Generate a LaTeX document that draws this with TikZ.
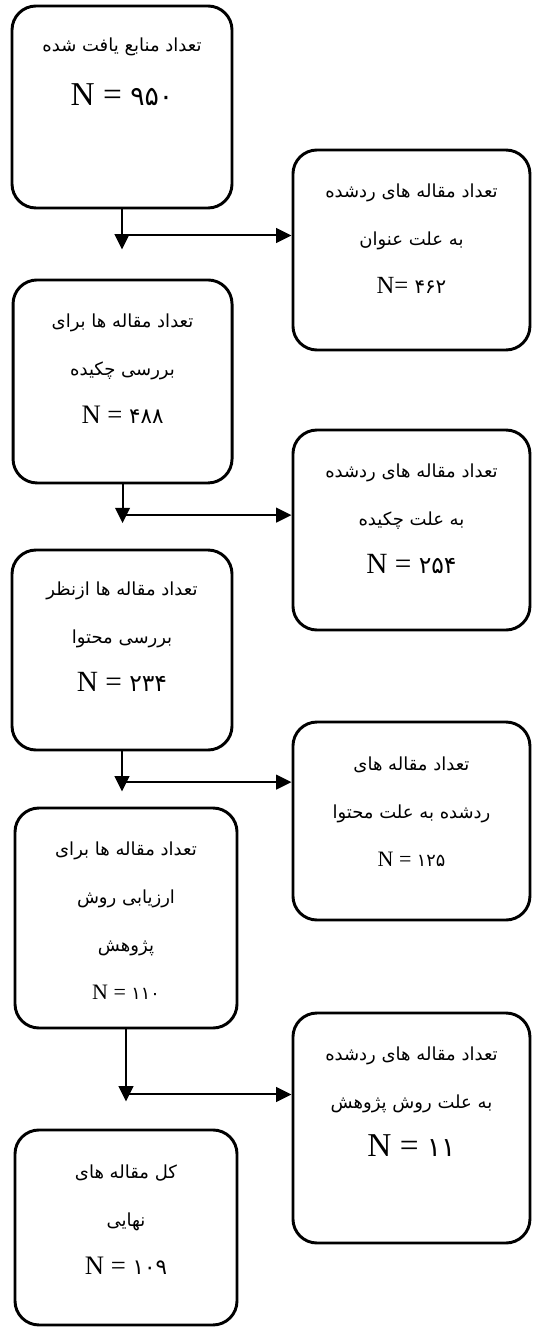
\documentclass[tikz,border=0pt]{standalone}
\usepackage{fontspec}
\setmainfont{Liberation Serif}
\newfontfamily\fa[Script=Arabic]{DejaVu Sans}
\TeXXeTstate=1
\usetikzlibrary{arrows.meta,positioning}

% one persian line, and the count line
\newcommand{\fline}[1]{{\fa\beginR #1\endR}}
\newcommand{\nline}[3]{{\rmfamily\fontsize{#1}{#1}\selectfont #2 {\fa\fontsize{0.8\dimexpr#1\relax}{#1}\selectfont #3}}}

\begin{document}
\begin{tikzpicture}[
  box/.style={draw, line width=2.2pt, rounded corners=18pt, minimum width=177.75pt},
  txt/.style={align=center, inner sep=0pt, font=\fa\fontsize{13.5pt}{36pt}\selectfont},
  flow/.style={-{Triangle[length=11.5pt,width=11pt]}, line width=1.5pt},
]
  \useasboundingbox (0,0) rectangle (402pt,-997.5pt);

  % left column
  \node[box, minimum width=165pt, minimum height=151.5pt] (b1) at (91.5pt,-80.25pt) {};
  \node[box, minimum width=164.25pt, minimum height=152.25pt] (b3) at (91.9pt,-286.1pt) {};
  \node[box, minimum width=165pt, minimum height=150pt] (b5) at (91.5pt,-487.5pt) {};
  \node[box, minimum width=166.5pt, minimum height=165pt] (b7) at (94.5pt,-688.5pt) {};
  \node[box, minimum width=166.5pt, minimum height=146.25pt] (b9) at (94.5pt,-920.6pt) {};

  % right column (rejected)
  \node[box, minimum height=150pt] (b2) at (308.6pt,-187.5pt) {};
  \node[box, minimum height=150pt] (b4) at (308.6pt,-397.5pt) {};
  \node[box, minimum height=148.5pt] (b6) at (308.6pt,-615.75pt) {};
  \node[box, minimum height=172.5pt] (b8) at (308.6pt,-846pt) {};

  % texts
  \node[txt, below=25pt of b1.north] (t1) {\fline{تعداد منابع یافت شده}\\[4.5pt] \nline{25pt}{N =}{۹۵۰}};
  \node[txt, below=26pt of b2.north] (t2) {\fline{تعداد مقاله های ردشده}\\ \fline{به علت عنوان}\\ \nline{18.5pt}{N=}{۴۶۲}};
  \node[txt, below=26pt of b3.north] (t3) {\fline{تعداد مقاله ها برای}\\ \fline{بررسی چکیده}\\ \nline{20pt}{N =}{۴۸۸}};
  \node[txt, below=26pt of b4.north] (t4) {\fline{تعداد مقاله های ردشده}\\ \fline{به علت چکیده}\\ \nline{22pt}{N =}{۲۵۴}};
  \node[txt, below=25pt of b5.north] (t5) {\fline{تعداد مقاله ها ازنظر}\\ \fline{بررسی محتوا}\\ \nline{22pt}{N =}{۲۳۴}};
  \node[txt, below=27pt of b6.north] (t6) {\fline{تعداد مقاله های}\\ \fline{ردشده به علت محتوا}\\ \nline{16.5pt}{N =}{۱۲۵}};
  \node[txt, below=26pt of b7.north] (t7) {\fline{تعداد مقاله ها برای}\\ \fline{ارزیابی روش}\\ \fline{پژوهش}\\ \nline{16.5pt}{N =}{۱۱۰}};
  \node[txt, below=26pt of b8.north] (t8) {\fline{تعداد مقاله های ردشده}\\ \fline{به علت روش پژوهش}\\ \nline{25pt}{N =}{۱۱}};
  \node[txt, below=27pt of b9.north] (t9) {\fline{کل مقاله های}\\ \fline{نهایی}\\ \nline{20pt}{N =}{۱۰۹}};

  % connectors
  \coordinate (e1) at ([yshift=-30pt]b1.south);
  \coordinate (j1) at ([yshift=-19.5pt]b1.south);
  \draw[flow] (b1.south) -- (e1);
  \draw[flow] (j1) -- (j1 -| b2.west);

  \coordinate (e2) at ([yshift=-29pt]b3.south);
  \coordinate (j2) at ([yshift=-23pt]b3.south);
  \draw[flow] (b3.south) -- (e2);
  \draw[flow] (j2) -- (j2 -| b4.west);

  \coordinate (e3) at ([yshift=-30pt]b5.south);
  \coordinate (j3) at ([yshift=-23pt]b5.south);
  \draw[flow] (b5.south) -- (e3);
  \draw[flow] (j3) -- (j3 -| b6.west);

  \coordinate (e4) at ([yshift=-54pt]b7.south);
  \coordinate (j4) at ([yshift=-48.75pt]b7.south);
  \draw[flow] (b7.south) -- (e4);
  \draw[flow] (j4) -- (j4 -| b8.west);
\end{tikzpicture}
\end{document}
